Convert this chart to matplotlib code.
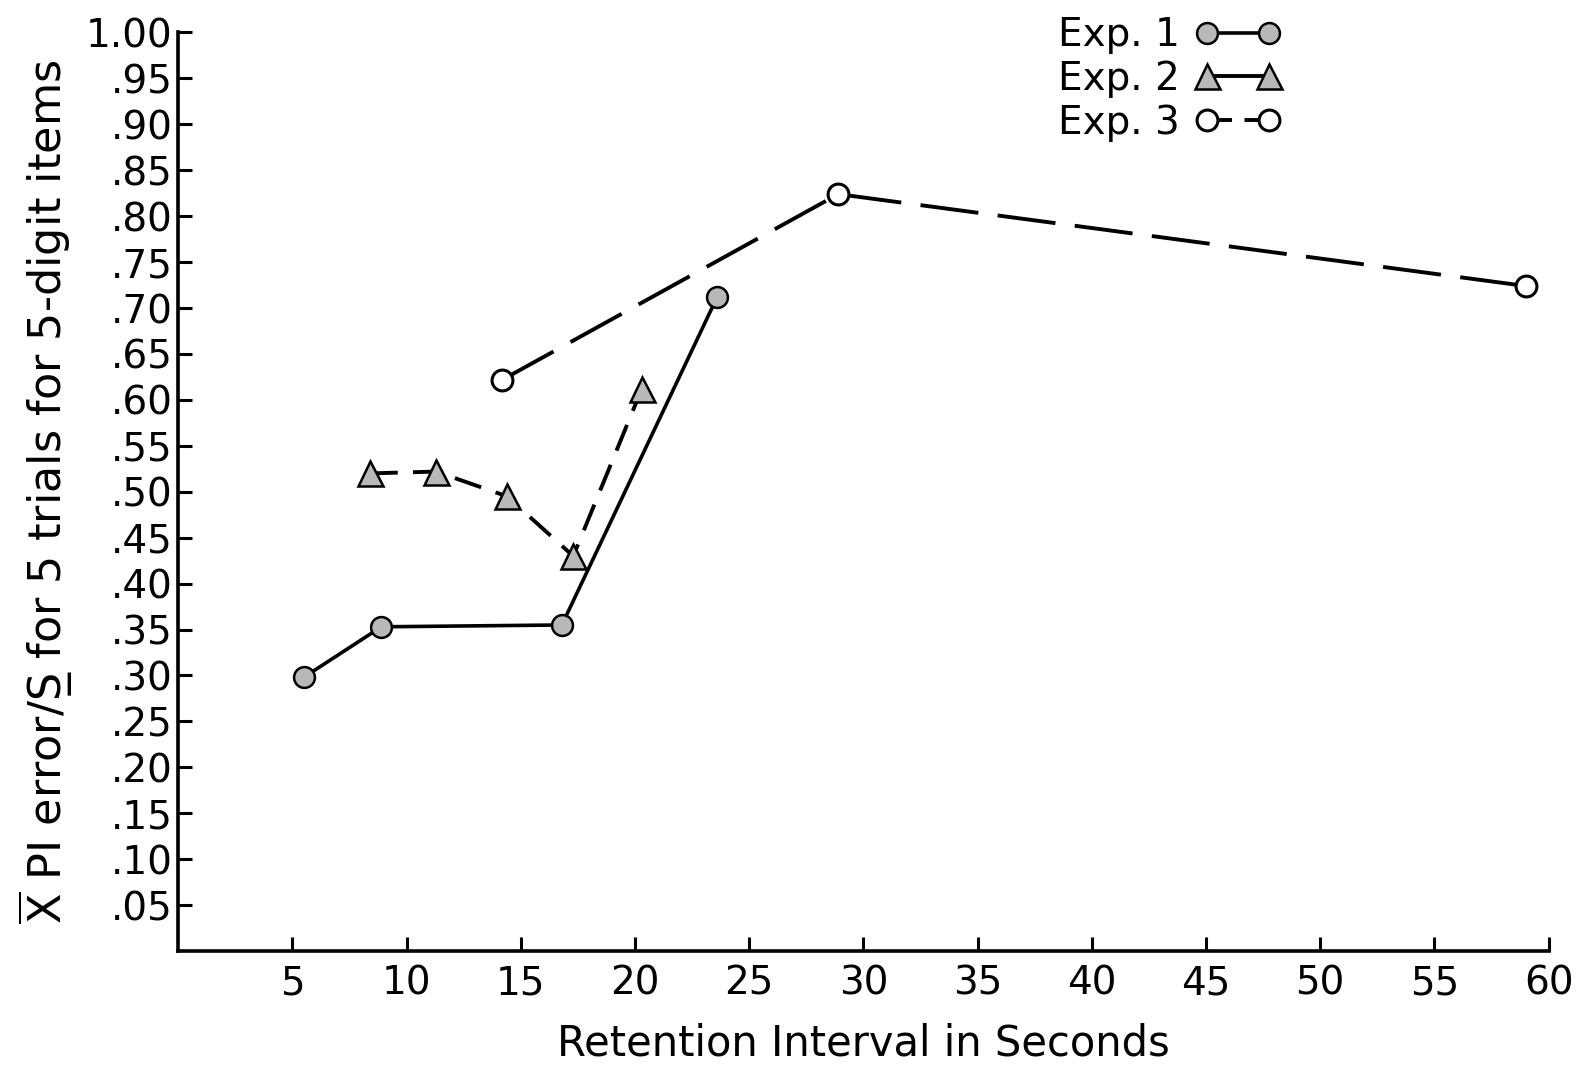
import matplotlib
matplotlib.use("Agg")
import matplotlib.pyplot as plt
from matplotlib.lines import Line2D
from matplotlib.ticker import FixedLocator

plt.rcParams["font.family"] = ["DejaVu Sans"]
plt.rcParams["mathtext.fontset"] = "dejavusans"
plt.rcParams["lines.scale_dashes"] = False

# data
exp1_x = [5.5, 8.9, 16.8, 23.6]
exp1_y = [0.298, 0.353, 0.355, 0.712]

exp2_x = [8.4, 11.3, 14.4, 17.3, 20.3]
exp2_y = [0.520, 0.522, 0.495, 0.430, 0.612]

exp3_x = [14.2, 28.9, 59.0]
exp3_y = [0.622, 0.824, 0.724]

labels = ["Exp. 1", "Exp. 2", "Exp. 3"]

x_ticks = [5, 10, 15, 20, 25, 30, 35, 40, 45, 50, 55, 60]
y_ticks = [0.05, 0.10, 0.15, 0.20, 0.25, 0.30, 0.35, 0.40, 0.45, 0.50,
           0.55, 0.60, 0.65, 0.70, 0.75, 0.80, 0.85, 0.90, 0.95, 1.00]
y_labels = [".05", ".10", ".15", ".20", ".25", ".30", ".35", ".40", ".45", ".50",
            ".55", ".60", ".65", ".70", ".75", ".80", ".85", ".90", ".95", "1.00"]

fig = plt.figure(figsize=(15.9, 10.82), dpi=100)
ax = fig.add_axes([0.112, 0.121, 0.862, 0.849])

grey = "#b8b8b8"
sty1 = dict(color="black", marker="o", ms=15, mfc=grey, mec="black", mew=1.8)
sty2 = dict(color="black", marker="^", ms=18, mfc=grey, mec="black", mew=1.8)
sty3 = dict(color="black", marker="o", ms=15, mfc="white", mec="black", mew=2.2)

ax.plot(exp1_x, exp1_y, lw=2.6, zorder=3, **sty1)
ax.plot(exp2_x, exp2_y, lw=2.8, ls=(0, (20, 11)), zorder=3, **sty2)
ax.plot(exp3_x, exp3_y, lw=2.8, ls=(0, (42, 14)), zorder=3, **sty3)

ax.set_xlim(0, 60)
ax.set_ylim(0, 1.0)
ax.xaxis.set_major_locator(FixedLocator(x_ticks))
ax.set_yticks(y_ticks)
ax.set_yticklabels(y_labels)

for s in ["top", "right"]:
    ax.spines[s].set_visible(False)
for s in ["left", "bottom"]:
    ax.spines[s].set_linewidth(2.6)

ax.tick_params(axis="y", direction="in", length=10, width=2.2, labelsize=28, pad=4)
ax.tick_params(axis="x", direction="in", length=10, width=2.2, labelsize=28, pad=10)

ax.set_xlabel("Retention Interval in Seconds", fontsize=30, labelpad=14)
ax.set_ylabel(r"$\overline{\mathrm{X}}$ PI error/S" + "\u0332" + " for 5 trials for 5-digit items",
              fontsize=32, labelpad=8)

# legend keys as drawn in the original: line between two markers
handles = [Line2D([], [], lw=2.6, **sty1),
           Line2D([], [], lw=2.8, **sty2),
           Line2D([], [], lw=2.8, ls=(0, (18, 9)), **sty3)]
ax.legend(handles, labels, loc="upper right", bbox_to_anchor=(1300 / 1590, 1.003),
          bbox_transform=fig.transFigure, frameon=False, markerfirst=False,
          fontsize=28, numpoints=2, handlelength=2.2, handletextpad=0.4,
          labelspacing=0.15, borderpad=0)

fig.savefig("out.png", dpi=100)
